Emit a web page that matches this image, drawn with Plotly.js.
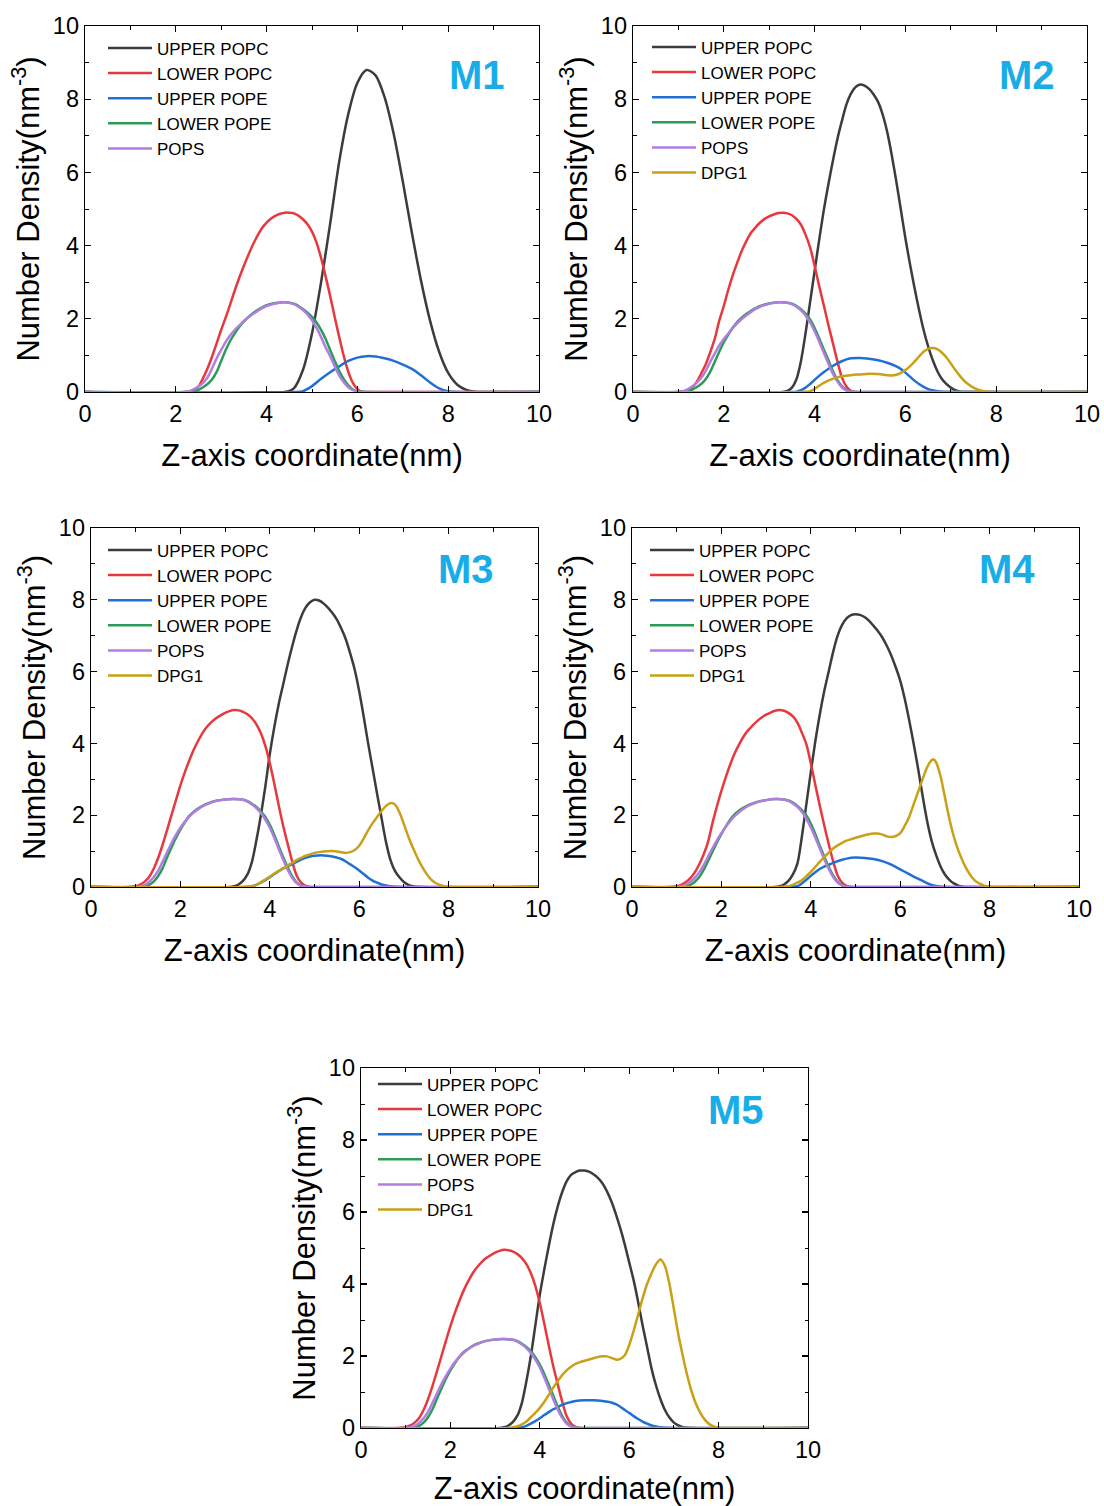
<!DOCTYPE html>
<html><head><meta charset="utf-8">
<script src="https://cdn.plot.ly/plotly-3.0.1.min.js"></script>
<style>
html,body{margin:0;padding:0;background:#fff}
#chart{width:1104px;height:1506px}
</style>
</head><body><div id="chart"></div>
<script>
// ---- labels ----
const SERIES_NAMES = ['UPPER POPC', 'LOWER POPC', 'UPPER POPE', 'LOWER POPE', 'POPS', 'DPG1'];
const PANEL_LABELS = ['M1', 'M2', 'M3', 'M4', 'M5'];
const X_TICKS = [0, 2, 4, 6, 8, 10];
const Y_TICKS = [0, 2, 4, 6, 8, 10];
const X_TITLE = 'Z-axis coordinate(nm)';
const Y_TITLE = 'Number Density(nm<sup>-3</sup>)';

// ---- data: [z (nm), number density (nm^-3)] ----
// M1
const M1_UPPER_POPC = [[0,0],[4.4,0],[4.6,0.1],[4.8,0.6],[5.0,1.6],[5.2,3.0],[5.4,4.6],[5.6,6.3],[5.8,7.6],[6.0,8.45],[6.2,8.8],[6.4,8.65],[6.6,8.05],[6.8,7.05],[7.0,5.75],[7.2,4.35],[7.4,3.05],[7.6,1.95],[7.8,1.1],[8.0,0.52],[8.2,0.2],[8.4,0.06],[8.6,0.01],[8.8,0],[10,0]];
const M1_LOWER_POPC = [[0,0],[2.2,0],[2.4,0.05],[2.5,0.15],[2.6,0.38],[2.7,0.65],[2.8,0.97],[2.9,1.33],[3.0,1.7],[3.1,2.04],[3.2,2.4],[3.3,2.78],[3.4,3.13],[3.5,3.45],[3.6,3.75],[3.7,4.03],[3.8,4.27],[3.9,4.48],[4.0,4.63],[4.1,4.74],[4.2,4.82],[4.3,4.87],[4.4,4.9],[4.5,4.9],[4.6,4.88],[4.7,4.82],[4.8,4.72],[4.9,4.58],[5.0,4.38],[5.1,4.08],[5.2,3.66],[5.3,3.16],[5.4,2.62],[5.5,2.05],[5.6,1.5],[5.7,0.98],[5.8,0.55],[5.9,0.25],[6.0,0.08],[6.1,0.01],[6.3,0],[10,0]];
const M1_UPPER_POPE = [[0,0],[4.6,0],[4.8,0.02],[5.0,0.16],[5.2,0.36],[5.4,0.54],[5.6,0.7],[5.8,0.85],[6.0,0.94],[6.2,0.98],[6.4,0.97],[6.6,0.92],[6.8,0.85],[7.0,0.75],[7.2,0.63],[7.4,0.46],[7.6,0.26],[7.8,0.1],[8.0,0.02],[8.2,0],[10,0]];
const M1_LOWER_POPE = [[0,0],[2.2,0],[2.4,0.02],[2.5,0.06],[2.6,0.13],[2.7,0.22],[2.8,0.35],[2.9,0.55],[3.0,0.85],[3.1,1.15],[3.2,1.4],[3.3,1.6],[3.4,1.78],[3.5,1.93],[3.6,2.05],[3.7,2.15],[3.8,2.24],[3.9,2.31],[4.0,2.37],[4.2,2.43],[4.4,2.45],[4.6,2.41],[4.7,2.35],[4.8,2.27],[4.9,2.17],[5.0,2.05],[5.1,1.9],[5.2,1.7],[5.3,1.45],[5.4,1.15],[5.5,0.85],[5.6,0.57],[5.7,0.35],[5.8,0.18],[5.9,0.07],[6.0,0.02],[6.2,0],[10,0]];
const M1_POPS       = [[0,0],[2.2,0],[2.3,0.02],[2.4,0.08],[2.5,0.15],[2.6,0.25],[2.7,0.4],[2.8,0.65],[2.9,0.92],[3.0,1.15],[3.1,1.37],[3.2,1.55],[3.3,1.7],[3.4,1.82],[3.5,1.94],[3.6,2.04],[3.7,2.13],[3.8,2.21],[3.9,2.29],[4.0,2.35],[4.2,2.42],[4.4,2.45],[4.6,2.4],[4.7,2.33],[4.8,2.24],[4.9,2.12],[5.0,1.96],[5.1,1.75],[5.2,1.5],[5.3,1.22],[5.4,0.98],[5.5,0.7],[5.6,0.45],[5.7,0.27],[5.8,0.13],[5.9,0.05],[6.0,0.01],[6.2,0],[10,0]];
// M2
const M2_UPPER_POPC = [[0,0],[3.3,0],[3.4,0.03],[3.5,0.12],[3.6,0.35],[3.7,0.85],[3.8,1.6],[3.9,2.45],[4.0,3.3],[4.1,4.15],[4.2,4.95],[4.3,5.65],[4.4,6.3],[4.5,6.9],[4.6,7.4],[4.7,7.85],[4.8,8.15],[4.9,8.33],[5.0,8.4],[5.1,8.37],[5.2,8.28],[5.3,8.13],[5.4,7.92],[5.5,7.58],[5.6,7.1],[5.7,6.47],[5.8,5.75],[5.9,4.98],[6.0,4.2],[6.1,3.5],[6.2,2.85],[6.3,2.25],[6.4,1.7],[6.5,1.25],[6.6,0.88],[6.7,0.58],[6.8,0.36],[6.9,0.22],[7.0,0.12],[7.1,0.05],[7.2,0.01],[7.4,0],[10,0]];
const M2_LOWER_POPC = [[0,0],[1.0,0],[1.2,0.04],[1.3,0.12],[1.4,0.27],[1.5,0.5],[1.6,0.75],[1.7,1.08],[1.8,1.45],[1.9,1.95],[2.0,2.35],[2.1,2.8],[2.2,3.2],[2.3,3.55],[2.4,3.87],[2.5,4.13],[2.6,4.35],[2.7,4.5],[2.8,4.63],[2.9,4.73],[3.0,4.8],[3.1,4.85],[3.2,4.89],[3.3,4.9],[3.4,4.88],[3.5,4.83],[3.6,4.73],[3.7,4.57],[3.8,4.3],[3.9,3.95],[4.0,3.45],[4.1,2.9],[4.2,2.38],[4.3,1.85],[4.4,1.35],[4.5,0.85],[4.6,0.4],[4.7,0.15],[4.8,0.03],[4.9,0],[10,0]];
const M2_UPPER_POPE = [[0,0],[3.5,0],[3.6,0.01],[3.7,0.05],[3.8,0.12],[3.9,0.22],[4.0,0.33],[4.1,0.44],[4.2,0.54],[4.3,0.63],[4.4,0.71],[4.5,0.78],[4.6,0.84],[4.7,0.89],[4.8,0.92],[5.0,0.93],[5.2,0.91],[5.4,0.87],[5.6,0.8],[5.8,0.7],[5.9,0.63],[6.0,0.53],[6.1,0.42],[6.2,0.31],[6.3,0.22],[6.4,0.14],[6.5,0.08],[6.6,0.05],[6.8,0.01],[7.0,0],[10,0]];
const M2_LOWER_POPE = [[0,0],[1.0,0],[1.2,0.02],[1.3,0.06],[1.4,0.13],[1.5,0.22],[1.6,0.35],[1.7,0.55],[1.8,0.82],[1.9,1.1],[2.0,1.36],[2.1,1.57],[2.2,1.76],[2.3,1.92],[2.4,2.04],[2.5,2.14],[2.6,2.22],[2.7,2.29],[2.8,2.35],[3.0,2.42],[3.2,2.45],[3.4,2.44],[3.5,2.41],[3.6,2.35],[3.7,2.26],[3.8,2.14],[3.9,1.98],[4.0,1.75],[4.1,1.47],[4.2,1.17],[4.3,0.88],[4.4,0.58],[4.5,0.33],[4.6,0.16],[4.7,0.06],[4.8,0.01],[5.0,0],[10,0]];
const M2_POPS       = [[0,0],[1.0,0],[1.1,0.02],[1.2,0.07],[1.3,0.15],[1.4,0.25],[1.5,0.38],[1.6,0.57],[1.7,0.82],[1.8,1.05],[1.9,1.27],[2.0,1.45],[2.1,1.6],[2.2,1.75],[2.3,1.88],[2.4,2.0],[2.5,2.1],[2.6,2.19],[2.7,2.27],[2.8,2.33],[3.0,2.41],[3.2,2.45],[3.4,2.44],[3.5,2.4],[3.6,2.33],[3.7,2.23],[3.8,2.09],[3.9,1.9],[4.0,1.66],[4.1,1.38],[4.2,1.08],[4.3,0.79],[4.4,0.51],[4.5,0.29],[4.6,0.13],[4.7,0.04],[4.8,0.01],[5.0,0],[10,0]];
const M2_DPG1       = [[0,0],[3.7,0],[3.9,0.02],[4.0,0.08],[4.1,0.17],[4.2,0.25],[4.3,0.31],[4.4,0.36],[4.5,0.4],[4.6,0.43],[4.8,0.46],[5.0,0.48],[5.2,0.5],[5.4,0.49],[5.6,0.46],[5.7,0.45],[5.8,0.47],[5.9,0.52],[6.0,0.6],[6.1,0.7],[6.2,0.83],[6.3,0.97],[6.4,1.1],[6.5,1.18],[6.6,1.2],[6.7,1.17],[6.8,1.08],[6.9,0.95],[7.0,0.78],[7.1,0.6],[7.2,0.44],[7.3,0.3],[7.4,0.2],[7.5,0.12],[7.6,0.06],[7.7,0.03],[7.8,0.01],[8.0,0],[10,0]];
// M3
const M3_UPPER_POPC = [[0,0],[3.1,0],[3.2,0.02],[3.3,0.07],[3.4,0.17],[3.5,0.35],[3.6,0.7],[3.7,1.3],[3.8,2.0],[3.9,2.8],[4.0,3.7],[4.1,4.45],[4.2,5.1],[4.3,5.65],[4.4,6.2],[4.5,6.7],[4.6,7.15],[4.7,7.52],[4.8,7.78],[4.9,7.93],[5.0,8.0],[5.1,7.98],[5.2,7.9],[5.3,7.78],[5.4,7.63],[5.5,7.45],[5.6,7.2],[5.7,6.9],[5.8,6.5],[5.9,6.05],[6.0,5.45],[6.1,4.75],[6.2,4.0],[6.3,3.3],[6.4,2.6],[6.5,1.92],[6.6,1.25],[6.7,0.75],[6.8,0.45],[6.9,0.27],[7.0,0.14],[7.1,0.06],[7.2,0.02],[7.4,0],[10,0]];
const M3_LOWER_POPC = [[0,0],[0.8,0],[1.0,0.02],[1.1,0.07],[1.2,0.15],[1.3,0.28],[1.4,0.5],[1.5,0.8],[1.6,1.17],[1.7,1.58],[1.8,2.0],[1.9,2.42],[2.0,2.83],[2.1,3.2],[2.2,3.53],[2.3,3.83],[2.4,4.08],[2.5,4.3],[2.6,4.47],[2.7,4.6],[2.8,4.7],[2.9,4.78],[3.0,4.85],[3.1,4.9],[3.2,4.93],[3.3,4.92],[3.4,4.88],[3.5,4.81],[3.6,4.7],[3.7,4.53],[3.8,4.28],[3.9,3.93],[4.0,3.45],[4.1,2.88],[4.2,2.27],[4.3,1.7],[4.4,1.2],[4.5,0.72],[4.6,0.32],[4.7,0.12],[4.8,0.03],[4.9,0],[10,0]];
const M3_UPPER_POPE = [[0,0],[3.4,0],[3.6,0.02],[3.7,0.06],[3.8,0.12],[3.9,0.19],[4.0,0.27],[4.1,0.36],[4.2,0.44],[4.3,0.52],[4.4,0.58],[4.5,0.64],[4.6,0.7],[4.7,0.76],[4.8,0.81],[4.9,0.85],[5.0,0.87],[5.2,0.88],[5.4,0.85],[5.5,0.82],[5.6,0.78],[5.7,0.71],[5.8,0.63],[5.9,0.55],[6.0,0.46],[6.1,0.36],[6.2,0.26],[6.3,0.18],[6.4,0.12],[6.5,0.07],[6.6,0.04],[6.7,0.02],[6.9,0],[10,0]];
const M3_LOWER_POPE = [[0,0],[1.0,0],[1.2,0.02],[1.3,0.06],[1.4,0.15],[1.5,0.3],[1.6,0.52],[1.7,0.82],[1.8,1.1],[1.9,1.37],[2.0,1.6],[2.1,1.8],[2.2,1.98],[2.3,2.1],[2.4,2.19],[2.5,2.26],[2.6,2.32],[2.8,2.4],[3.0,2.44],[3.2,2.45],[3.4,2.43],[3.5,2.39],[3.6,2.32],[3.7,2.23],[3.8,2.11],[3.9,1.95],[4.0,1.73],[4.1,1.45],[4.2,1.13],[4.3,0.83],[4.4,0.55],[4.5,0.3],[4.6,0.13],[4.7,0.04],[4.8,0.01],[5.0,0],[10,0]];
const M3_POPS       = [[0,0],[1.0,0],[1.1,0.02],[1.2,0.06],[1.3,0.14],[1.4,0.27],[1.5,0.45],[1.6,0.7],[1.7,0.96],[1.8,1.22],[1.9,1.45],[2.0,1.65],[2.1,1.82],[2.2,1.96],[2.3,2.08],[2.4,2.17],[2.5,2.25],[2.6,2.31],[2.8,2.4],[3.0,2.44],[3.2,2.45],[3.4,2.43],[3.5,2.38],[3.6,2.3],[3.7,2.2],[3.8,2.06],[3.9,1.88],[4.0,1.65],[4.1,1.37],[4.2,1.06],[4.3,0.76],[4.4,0.48],[4.5,0.26],[4.6,0.11],[4.7,0.03],[4.8,0.01],[5.0,0],[10,0]];
const M3_DPG1       = [[0,0],[3.4,0],[3.6,0.02],[3.7,0.06],[3.8,0.13],[3.9,0.21],[4.0,0.29],[4.1,0.37],[4.2,0.45],[4.3,0.52],[4.4,0.6],[4.5,0.67],[4.6,0.75],[4.7,0.81],[4.8,0.87],[4.9,0.91],[5.0,0.95],[5.2,0.99],[5.4,1.0],[5.5,0.99],[5.6,0.97],[5.7,0.95],[5.8,0.97],[5.9,1.03],[6.0,1.15],[6.1,1.35],[6.2,1.58],[6.3,1.78],[6.4,1.95],[6.5,2.12],[6.6,2.26],[6.7,2.34],[6.8,2.3],[6.9,2.08],[7.0,1.75],[7.1,1.4],[7.2,1.1],[7.3,0.82],[7.4,0.58],[7.5,0.38],[7.6,0.22],[7.7,0.12],[7.8,0.06],[7.9,0.02],[8.1,0],[10,0]];
// M4
const M4_UPPER_POPC = [[0,0],[3.2,0],[3.3,0.02],[3.4,0.07],[3.5,0.17],[3.6,0.35],[3.7,0.65],[3.8,1.4],[3.9,2.3],[4.0,3.2],[4.1,4.05],[4.2,4.8],[4.3,5.45],[4.4,6.0],[4.5,6.55],[4.6,7.0],[4.7,7.3],[4.8,7.48],[4.9,7.57],[5.0,7.6],[5.1,7.58],[5.2,7.52],[5.3,7.42],[5.4,7.28],[5.5,7.13],[5.6,6.95],[5.7,6.72],[5.8,6.45],[5.9,6.12],[6.0,5.75],[6.1,5.25],[6.2,4.65],[6.3,4.0],[6.4,3.3],[6.5,2.55],[6.6,1.85],[6.7,1.3],[6.8,0.9],[6.9,0.58],[7.0,0.35],[7.1,0.2],[7.2,0.1],[7.3,0.04],[7.4,0.01],[7.6,0],[10,0]];
const M4_LOWER_POPC = [[0,0],[0.8,0],[1.0,0.02],[1.1,0.06],[1.2,0.13],[1.3,0.24],[1.4,0.4],[1.5,0.62],[1.6,0.9],[1.7,1.25],[1.8,1.78],[1.9,2.25],[2.0,2.68],[2.1,3.07],[2.2,3.42],[2.3,3.73],[2.4,3.98],[2.5,4.2],[2.6,4.37],[2.7,4.5],[2.8,4.62],[2.9,4.72],[3.0,4.8],[3.1,4.86],[3.2,4.91],[3.3,4.93],[3.4,4.91],[3.5,4.85],[3.6,4.75],[3.7,4.58],[3.8,4.3],[3.9,3.98],[4.0,3.45],[4.1,2.85],[4.2,2.27],[4.3,1.72],[4.4,1.2],[4.5,0.72],[4.6,0.32],[4.7,0.12],[4.8,0.03],[4.9,0],[10,0]];
const M4_UPPER_POPE = [[0,0],[3.5,0],[3.7,0.02],[3.8,0.1],[3.9,0.2],[4.0,0.31],[4.1,0.41],[4.2,0.5],[4.3,0.57],[4.4,0.62],[4.5,0.67],[4.6,0.72],[4.7,0.76],[4.8,0.79],[5.0,0.82],[5.2,0.81],[5.4,0.78],[5.6,0.72],[5.8,0.62],[6.0,0.49],[6.2,0.36],[6.4,0.23],[6.5,0.17],[6.6,0.11],[6.7,0.06],[6.8,0.03],[7.0,0],[10,0]];
const M4_LOWER_POPE = [[0,0],[1.0,0],[1.2,0.02],[1.3,0.06],[1.4,0.14],[1.5,0.27],[1.6,0.47],[1.7,0.72],[1.8,0.98],[1.9,1.24],[2.0,1.48],[2.1,1.69],[2.2,1.88],[2.3,2.03],[2.4,2.13],[2.5,2.21],[2.6,2.28],[2.8,2.37],[3.0,2.42],[3.2,2.45],[3.4,2.44],[3.5,2.41],[3.6,2.35],[3.7,2.26],[3.8,2.14],[3.9,1.99],[4.0,1.77],[4.1,1.48],[4.2,1.15],[4.3,0.85],[4.4,0.56],[4.5,0.32],[4.6,0.15],[4.7,0.05],[4.8,0.01],[5.0,0],[10,0]];
const M4_POPS       = [[0,0],[1.0,0],[1.1,0.02],[1.2,0.06],[1.3,0.14],[1.4,0.25],[1.5,0.4],[1.6,0.6],[1.7,0.84],[1.8,1.08],[1.9,1.3],[2.0,1.5],[2.1,1.68],[2.2,1.84],[2.3,1.98],[2.4,2.09],[2.5,2.18],[2.6,2.26],[2.8,2.36],[3.0,2.42],[3.2,2.45],[3.4,2.44],[3.5,2.4],[3.6,2.33],[3.7,2.23],[3.8,2.09],[3.9,1.9],[4.0,1.66],[4.1,1.38],[4.2,1.08],[4.3,0.78],[4.4,0.5],[4.5,0.28],[4.6,0.12],[4.7,0.04],[4.8,0.01],[5.0,0],[10,0]];
const M4_DPG1       = [[0,0],[3.3,0],[3.5,0.02],[3.6,0.06],[3.7,0.12],[3.8,0.19],[3.9,0.3],[4.0,0.42],[4.1,0.56],[4.2,0.7],[4.3,0.83],[4.4,0.96],[4.5,1.07],[4.6,1.16],[4.7,1.23],[4.8,1.29],[4.9,1.33],[5.0,1.37],[5.2,1.44],[5.4,1.49],[5.5,1.49],[5.6,1.46],[5.7,1.41],[5.8,1.39],[5.9,1.42],[6.0,1.5],[6.1,1.7],[6.2,1.95],[6.3,2.3],[6.4,2.65],[6.5,3.0],[6.6,3.33],[6.7,3.53],[6.75,3.55],[6.8,3.48],[6.9,3.1],[7.0,2.5],[7.1,1.9],[7.2,1.4],[7.3,1.02],[7.4,0.72],[7.5,0.47],[7.6,0.28],[7.7,0.15],[7.8,0.08],[7.9,0.03],[8.0,0.01],[8.2,0],[10,0]];
// M5
const M5_UPPER_POPC = [[0,0],[3.1,0],[3.2,0.02],[3.3,0.07],[3.4,0.17],[3.5,0.35],[3.6,0.7],[3.7,1.3],[3.8,2.0],[3.9,2.85],[4.0,3.7],[4.1,4.4],[4.2,5.05],[4.3,5.65],[4.4,6.15],[4.5,6.55],[4.6,6.85],[4.7,7.03],[4.8,7.11],[4.9,7.15],[5.0,7.15],[5.1,7.12],[5.2,7.05],[5.3,6.95],[5.4,6.8],[5.5,6.58],[5.6,6.3],[5.7,5.95],[5.8,5.55],[5.9,5.1],[6.0,4.6],[6.1,4.1],[6.2,3.5],[6.3,2.85],[6.4,2.25],[6.5,1.65],[6.6,1.18],[6.7,0.8],[6.8,0.5],[6.9,0.29],[7.0,0.15],[7.1,0.07],[7.2,0.02],[7.4,0],[10,0]];
const M5_LOWER_POPC = [[0,0],[0.8,0],[1.0,0.02],[1.1,0.07],[1.2,0.15],[1.3,0.28],[1.4,0.5],[1.5,0.8],[1.6,1.17],[1.7,1.58],[1.8,2.0],[1.9,2.42],[2.0,2.83],[2.1,3.2],[2.2,3.53],[2.3,3.83],[2.4,4.08],[2.5,4.3],[2.6,4.47],[2.7,4.61],[2.8,4.72],[2.9,4.8],[3.0,4.87],[3.1,4.92],[3.2,4.95],[3.3,4.94],[3.4,4.9],[3.5,4.83],[3.6,4.72],[3.7,4.55],[3.8,4.3],[3.9,3.95],[4.0,3.47],[4.1,2.9],[4.2,2.3],[4.3,1.72],[4.4,1.22],[4.5,0.74],[4.6,0.33],[4.7,0.12],[4.8,0.03],[4.9,0],[10,0]];
const M5_UPPER_POPE = [[0,0],[3.4,0],[3.6,0.02],[3.7,0.06],[3.8,0.12],[3.9,0.19],[4.0,0.27],[4.1,0.36],[4.2,0.44],[4.3,0.52],[4.4,0.58],[4.5,0.64],[4.6,0.69],[4.7,0.72],[4.8,0.75],[5.0,0.77],[5.2,0.77],[5.4,0.75],[5.6,0.71],[5.7,0.66],[5.8,0.59],[5.9,0.5],[6.0,0.42],[6.1,0.33],[6.2,0.25],[6.3,0.18],[6.4,0.12],[6.5,0.07],[6.6,0.04],[6.7,0.02],[6.9,0],[10,0]];
const M5_LOWER_POPE = [[0,0],[1.0,0],[1.2,0.02],[1.3,0.06],[1.4,0.15],[1.5,0.3],[1.6,0.52],[1.7,0.82],[1.8,1.1],[1.9,1.37],[2.0,1.6],[2.1,1.8],[2.2,1.98],[2.3,2.11],[2.4,2.2],[2.5,2.28],[2.6,2.34],[2.8,2.42],[3.0,2.46],[3.2,2.47],[3.4,2.45],[3.5,2.41],[3.6,2.34],[3.7,2.25],[3.8,2.13],[3.9,1.97],[4.0,1.76],[4.1,1.5],[4.2,1.2],[4.3,0.9],[4.4,0.6],[4.5,0.34],[4.6,0.15],[4.7,0.05],[4.8,0.01],[5.0,0],[10,0]];
const M5_POPS       = [[0,0],[1.0,0],[1.1,0.02],[1.2,0.06],[1.3,0.14],[1.4,0.27],[1.5,0.45],[1.6,0.7],[1.7,0.96],[1.8,1.22],[1.9,1.45],[2.0,1.65],[2.1,1.83],[2.2,1.97],[2.3,2.09],[2.4,2.19],[2.5,2.27],[2.6,2.33],[2.8,2.42],[3.0,2.46],[3.2,2.47],[3.4,2.45],[3.5,2.4],[3.6,2.32],[3.7,2.22],[3.8,2.08],[3.9,1.9],[4.0,1.68],[4.1,1.4],[4.2,1.1],[4.3,0.8],[4.4,0.52],[4.5,0.28],[4.6,0.12],[4.7,0.04],[4.8,0.01],[5.0,0],[10,0]];
const M5_DPG1       = [[0,0],[3.3,0],[3.4,0.02],[3.5,0.05],[3.6,0.1],[3.7,0.18],[3.8,0.3],[3.9,0.42],[4.0,0.56],[4.1,0.72],[4.2,0.92],[4.3,1.12],[4.4,1.3],[4.5,1.47],[4.6,1.6],[4.7,1.7],[4.8,1.78],[4.9,1.83],[5.0,1.87],[5.2,1.94],[5.4,1.99],[5.5,1.99],[5.6,1.95],[5.7,1.9],[5.8,1.92],[5.9,2.02],[6.0,2.3],[6.1,2.7],[6.2,3.15],[6.3,3.6],[6.4,4.0],[6.5,4.3],[6.6,4.55],[6.7,4.68],[6.8,4.5],[6.9,4.0],[7.0,3.3],[7.1,2.6],[7.2,2.0],[7.3,1.45],[7.4,1.0],[7.5,0.65],[7.6,0.4],[7.7,0.22],[7.8,0.1],[7.9,0.04],[8.0,0.01],[8.2,0],[10,0]];

const PANEL_CURVES = [
  [M1_UPPER_POPC, M1_LOWER_POPC, M1_UPPER_POPE, M1_LOWER_POPE, M1_POPS],
  [M2_UPPER_POPC, M2_LOWER_POPC, M2_UPPER_POPE, M2_LOWER_POPE, M2_POPS, M2_DPG1],
  [M3_UPPER_POPC, M3_LOWER_POPC, M3_UPPER_POPE, M3_LOWER_POPE, M3_POPS, M3_DPG1],
  [M4_UPPER_POPC, M4_LOWER_POPC, M4_UPPER_POPE, M4_LOWER_POPE, M4_POPS, M4_DPG1],
  [M5_UPPER_POPC, M5_LOWER_POPC, M5_UPPER_POPE, M5_LOWER_POPE, M5_POPS, M5_DPG1]
];

// ---- styling / layout ----
const COLORS = ['#3c3c3c', '#e8383d', '#1f6fd6', '#2b9b57', '#b27de3', '#c9a016'];
const W = 1104, H = 1506;
// plot boxes in px: [left, top, right, bottom]
const BOXES = [[85, 26, 539, 392], [633, 26, 1087, 392], [91, 528, 538, 887], [632, 528, 1079, 887], [361, 1068, 808, 1428]];
// legend: px offset of first legend line start and first row centre from box top-left
const LEG_OFF = [[23, 22], [19, 21], [17, 22], [18, 22], [17, 16]];
// panel label position as fraction of the axis domain
const LABEL_POS = [[0.863, 0.866], [0.868, 0.866], [0.839, 0.886], [0.839, 0.886], [0.839, 0.883]];
const LEG_FONT = 17;

const FONT = 'Arial, "Liberation Sans", Helvetica, sans-serif';
const traces = [];
const layout = {
  width: W, height: H,
  margin: {l: 0, r: 0, t: 0, b: 0},
  paper_bgcolor: '#fff', plot_bgcolor: '#fff',
  font: {family: FONT, color: '#000'},
  showlegend: true,
  annotations: []
};

PANEL_CURVES.forEach((curves, i) => {
  const sfx = i === 0 ? '' : String(i + 1);
  const xa = 'x' + sfx, ya = 'y' + sfx, lg = 'legend' + sfx;
  curves.forEach((c, j) => {
    traces.push({
      type: 'scatter', mode: 'lines',
      x: c.map(p => p[0]), y: c.map(p => p[1]),
      name: SERIES_NAMES[j],
      xaxis: xa, yaxis: ya, legend: lg,
      line: {color: COLORS[j], width: 2.5, shape: 'spline', smoothing: 0.8},
      hoverinfo: 'skip'
    });
  });
  const b = BOXES[i];
  const common = {
    range: [0, 10], autorange: false,
    showline: true, linecolor: '#000', linewidth: 1.3, mirror: 'ticks',
    ticks: 'inside', ticklen: 6, tickwidth: 1.2, tickcolor: '#000',
    tickmode: 'array',
    minor: {ticks: 'inside', ticklen: 3.5, tickwidth: 1, tickcolor: '#000', dtick: 1, tick0: 0, showgrid: false},
    showgrid: false, zeroline: false,
    tickfont: {size: 23.5, color: '#000', family: FONT},
    fixedrange: true
  };
  layout['xaxis' + sfx] = Object.assign({}, common, {
    tickvals: X_TICKS, ticktext: X_TICKS.map(String),
    domain: [b[0] / W, b[2] / W], anchor: ya,
    title: {text: X_TITLE, font: {size: 31, color: '#000', family: FONT}, standoff: 18}
  });
  layout['yaxis' + sfx] = Object.assign({}, common, {
    tickvals: Y_TICKS, ticktext: Y_TICKS.map(String),
    domain: [1 - b[3] / H, 1 - b[1] / H], anchor: xa,
    title: {text: Y_TITLE, font: {size: 31, color: '#000', family: FONT}, standoff: 4}
  });
  const lo = LEG_OFF[i];
  const rowHalf = 5 + (LEG_FONT * 1.3 + 3) / 2;
  layout[lg] = {
    x: (b[0] + lo[0] - 5) / W, y: 1 - (b[1] + lo[1] - rowHalf) / H,
    xanchor: 'left', yanchor: 'top', xref: 'paper', yref: 'paper',
    bgcolor: 'rgba(0,0,0,0)', borderwidth: 0,
    font: {size: LEG_FONT, color: '#000', family: FONT},
    itemwidth: 44, tracegroupgap: 0, traceorder: 'normal'
  };
  layout.annotations.push({
    xref: xa + ' domain', yref: ya + ' domain',
    x: LABEL_POS[i][0], y: LABEL_POS[i][1],
    xanchor: 'center', yanchor: 'middle', showarrow: false,
    text: '<b>' + PANEL_LABELS[i] + '</b>',
    font: {size: 40, color: '#19ade8', family: FONT}
  });
});

Plotly.newPlot('chart', traces, layout, {staticPlot: true, displayModeBar: false});
</script>
</body></html>
